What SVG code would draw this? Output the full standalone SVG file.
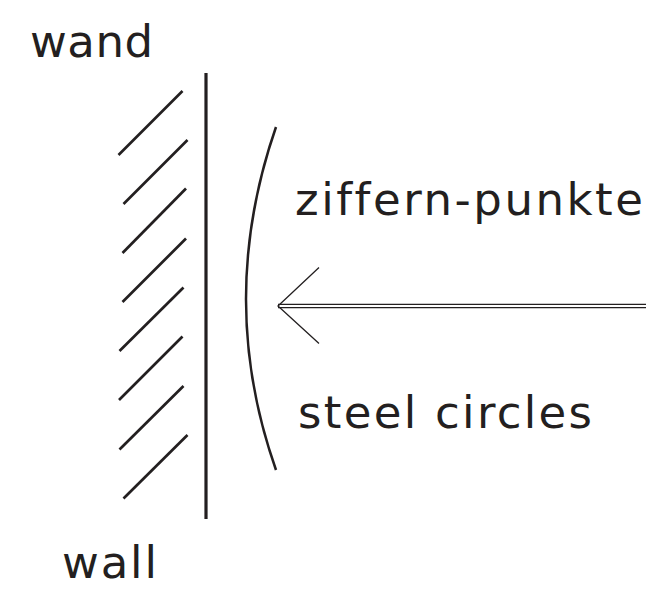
<svg xmlns="http://www.w3.org/2000/svg" width="652" height="591" viewBox="0 0 652 591">
<style>
.t{font-family:"DejaVu Sans","Liberation Sans",sans-serif;font-size:45px;fill:#231f20;font-variant-ligatures:none;font-feature-settings:"liga" 0}
.h{stroke:#231f20;stroke-width:2.7;fill:none}
.w{stroke:#231f20;stroke-width:3.2;fill:none}
.a{stroke:#231f20;stroke-width:1.3;fill:none}
</style>
<rect width="652" height="591" fill="#fff"/>
<g id="wall">
<line class="w" x1="206" y1="73" x2="206" y2="519"/>
<line class="h" x1="118.5" y1="155" x2="182.5" y2="91"/>
<line class="h" x1="123.5" y1="204" x2="187.5" y2="140"/>
<line class="h" x1="122.5" y1="253" x2="186" y2="188.5"/>
<line class="h" x1="122.5" y1="302" x2="186" y2="238.5"/>
<line class="h" x1="119.5" y1="351" x2="183.5" y2="287.5"/>
<line class="h" x1="119" y1="400" x2="182.5" y2="336.5"/>
<line class="h" x1="119.5" y1="449.5" x2="183.5" y2="386"/>
<line class="h" x1="123.5" y1="498.5" x2="187.5" y2="435"/>
</g>
<g id="steel-circles-arc">
<path class="w" style="stroke-width:2.5" d="M276 127 Q216 300 276 470"/>
</g>
<g id="connectors">
<line class="a" x1="278" y1="304.3" x2="646" y2="304.3"/>
<line class="a" x1="278" y1="307.7" x2="646" y2="307.7"/>
<polyline class="a" points="319,267.5 278,306 319,343.5"/>
</g>
<g id="labels">
<text class="t" x="30" y="57" textLength="123" lengthAdjust="spacing">wand</text>
<text class="t" x="295" y="215" textLength="348" lengthAdjust="spacing">ziffern-punkte</text>
<text class="t" x="298" y="428" textLength="294" lengthAdjust="spacing">steel circles</text>
<text class="t" x="62" y="578" textLength="95" lengthAdjust="spacing">wall</text>
</g>
</svg>
